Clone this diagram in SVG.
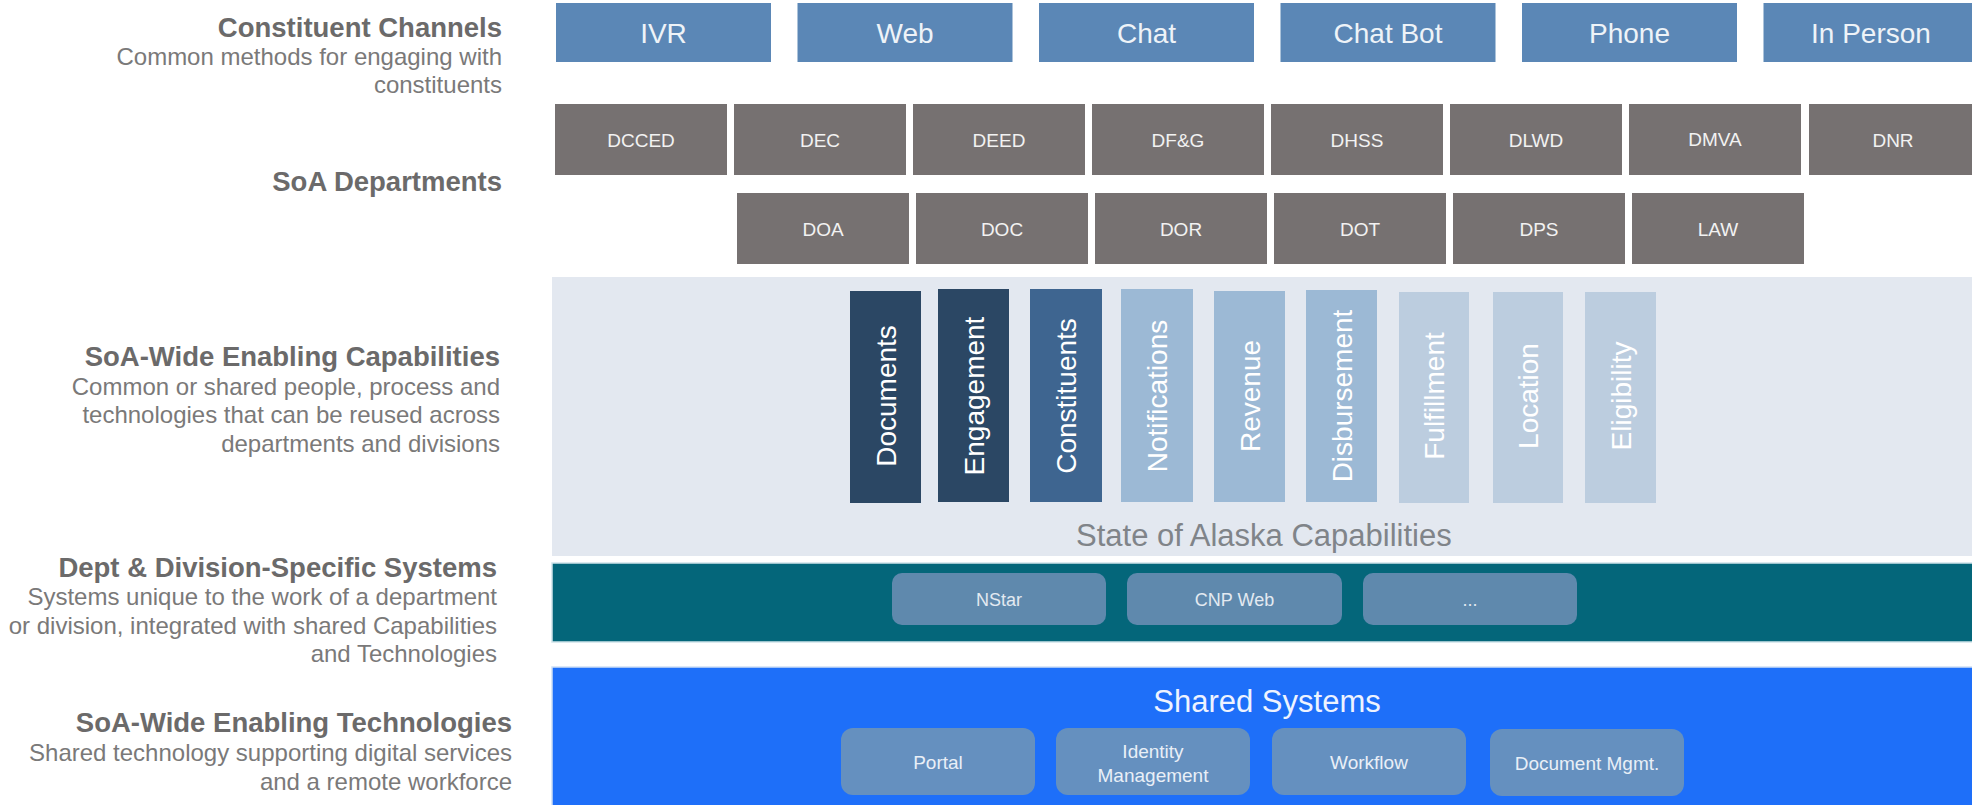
<svg xmlns="http://www.w3.org/2000/svg" width="1972" height="805" viewBox="0 0 1972 805">
  <style>
    text { font-family: "Liberation Sans", Arial, sans-serif; }
    .ttl { font-size: 27.5px; font-weight: bold; fill: #6b6a6a; text-anchor: end; }
    .sub { font-size: 24px; fill: #7a7979; text-anchor: end; }
    .chan rect { fill: #5b87b6; }
    .chan text { font-size: 28px; fill: #eef3f8; text-anchor: middle; }
    .dept rect { fill: #767171; }
    .dept text { font-size: 19px; fill: #f2f2f2; text-anchor: middle; }
    .cap text { font-size: 28px; fill: #ffffff; text-anchor: middle; }
    .navy { fill: #2b4764; }
    .mid { fill: #3e6590; }
    .pale { fill: #9cb9d5; }
    .paler { fill: #bccddf; }
    .sys rect { fill: #5f89ad; }
    .sys text { font-size: 18px; fill: #e3eaf1; text-anchor: middle; }
    .tech rect { fill: #6590bf; }
    .tech text { font-size: 19px; fill: #e9eff7; text-anchor: middle; }
  </style>

  <rect width="1972" height="805" fill="#ffffff"/>

  <!-- Row labels on the left -->
  <g id="label-channels">
    <text class="ttl" x="502" y="37">Constituent Channels</text>
    <text class="sub" x="502" y="65">Common methods for engaging with</text>
    <text class="sub" x="502" y="93">constituents</text>
  </g>
  <g id="label-departments">
    <text class="ttl" x="502" y="191">SoA Departments</text>
  </g>
  <g id="label-capabilities">
    <text class="ttl" x="500" y="366">SoA-Wide Enabling Capabilities</text>
    <text class="sub" x="500" y="395">Common or shared people, process and</text>
    <text class="sub" x="500" y="423">technologies that can be reused across</text>
    <text class="sub" x="500" y="452">departments and divisions</text>
  </g>
  <g id="label-dept-systems">
    <text class="ttl" x="497" y="577">Dept &amp; Division-Specific Systems</text>
    <text class="sub" x="497" y="605">Systems unique to the work of a department</text>
    <text class="sub" x="497" y="634">or division, integrated with shared Capabilities</text>
    <text class="sub" x="497" y="662">and Technologies</text>
  </g>
  <g id="label-technologies">
    <text class="ttl" x="512" y="732">SoA-Wide Enabling Technologies</text>
    <text class="sub" x="512" y="761">Shared technology supporting digital services</text>
    <text class="sub" x="512" y="790">and a remote workforce</text>
  </g>

  <!-- Constituent channels -->
  <g id="ch-ivr" class="chan"><rect x="556" y="3" width="215" height="59"/><text x="663.5" y="43">IVR</text></g>
  <g id="ch-web" class="chan"><rect x="797.5" y="3" width="215" height="59"/><text x="905" y="43">Web</text></g>
  <g id="ch-chat" class="chan"><rect x="1039" y="3" width="215" height="59"/><text x="1146.5" y="43">Chat</text></g>
  <g id="ch-chatbot" class="chan"><rect x="1280.5" y="3" width="215" height="59"/><text x="1388" y="43">Chat Bot</text></g>
  <g id="ch-phone" class="chan"><rect x="1522" y="3" width="215" height="59"/><text x="1629.5" y="43">Phone</text></g>
  <g id="ch-inperson" class="chan"><rect x="1763.5" y="3" width="215" height="59"/><text x="1871" y="43">In Person</text></g>

  <!-- Departments, first row -->
  <g id="d-dcced" class="dept"><rect x="555" y="104" width="172" height="71"/><text x="641" y="147">DCCED</text></g>
  <g id="d-dec" class="dept"><rect x="734" y="104" width="172" height="71"/><text x="820" y="147">DEC</text></g>
  <g id="d-deed" class="dept"><rect x="913" y="104" width="172" height="71"/><text x="999" y="147">DEED</text></g>
  <g id="d-dfg" class="dept"><rect x="1092" y="104" width="172" height="71"/><text x="1178" y="147">DF&amp;G</text></g>
  <g id="d-dhss" class="dept"><rect x="1271" y="104" width="172" height="71"/><text x="1357" y="147">DHSS</text></g>
  <g id="d-dlwd" class="dept"><rect x="1450" y="104" width="172" height="71"/><text x="1536" y="147">DLWD</text></g>
  <g id="d-dmva" class="dept"><rect x="1629" y="104" width="172" height="71"/><text x="1715" y="146" font-size="17">DMVA</text></g>
  <g id="d-dnr" class="dept"><rect x="1809" y="104" width="172" height="71"/><text x="1893" y="147">DNR</text></g>

  <!-- Departments, second row -->
  <g id="d-doa" class="dept"><rect x="737" y="193" width="172" height="71"/><text x="823" y="236">DOA</text></g>
  <g id="d-doc" class="dept"><rect x="916" y="193" width="172" height="71"/><text x="1002" y="236">DOC</text></g>
  <g id="d-dor" class="dept"><rect x="1095" y="193" width="172" height="71"/><text x="1181" y="236">DOR</text></g>
  <g id="d-dot" class="dept"><rect x="1274" y="193" width="172" height="71"/><text x="1360" y="236">DOT</text></g>
  <g id="d-dps" class="dept"><rect x="1453" y="193" width="172" height="71"/><text x="1539" y="236">DPS</text></g>
  <g id="d-law" class="dept"><rect x="1632" y="193" width="172" height="71"/><text x="1718" y="236">LAW</text></g>

  <!-- Shared capabilities panel -->
  <g id="capabilities">
    <rect x="552" y="277" width="1420" height="279" fill="#e3e8f0"/>
    <text x="1076" y="546" font-size="31" fill="#808489">State of Alaska Capabilities</text>
  </g>
  <g id="cap-documents" class="cap"><rect class="navy" x="850" y="291" width="71" height="212"/><text transform="translate(885.5,396) rotate(-90)" y="10">Documents</text></g>
  <g id="cap-engagement" class="cap"><rect class="navy" x="938" y="289" width="71" height="213"/><text transform="translate(973.5,396) rotate(-90)" y="10">Engagement</text></g>
  <g id="cap-constituents" class="cap"><rect class="mid" x="1030" y="289" width="72" height="213"/><text transform="translate(1066,396) rotate(-90)" y="10">Constituents</text></g>
  <g id="cap-notifications" class="cap"><rect class="pale" x="1121" y="289" width="72" height="213"/><text transform="translate(1157,396) rotate(-90)" y="10">Notifications</text></g>
  <g id="cap-revenue" class="cap"><rect class="pale" x="1214" y="291" width="71" height="211"/><text transform="translate(1249.5,396) rotate(-90)" y="10">Revenue</text></g>
  <g id="cap-disbursement" class="cap"><rect class="pale" x="1306" y="290" width="71" height="212"/><text transform="translate(1341.5,396) rotate(-90)" y="10">Disbursement</text></g>
  <g id="cap-fulfillment" class="cap"><rect class="paler" x="1399" y="292" width="70" height="211"/><text transform="translate(1434,396) rotate(-90)" y="10">Fulfillment</text></g>
  <g id="cap-location" class="cap"><rect class="paler" x="1493" y="292" width="70" height="211"/><text transform="translate(1528,396) rotate(-90)" y="10">Location</text></g>
  <g id="cap-eligibility" class="cap"><rect class="paler" x="1585" y="292" width="71" height="211"/><text transform="translate(1620.5,396) rotate(-90)" y="10">Eligibility</text></g>

  <!-- Department-specific systems band -->
  <g id="dept-systems">
    <rect x="552" y="563" width="1421" height="79" fill="#04667a" stroke="#cfe4ea" stroke-width="1.5"/>
  </g>
  <g id="sys-nstar" class="sys"><rect x="892" y="573" width="214" height="52" rx="10"/><text x="999" y="606">NStar</text></g>
  <g id="sys-cnpweb" class="sys"><rect x="1127" y="573" width="215" height="52" rx="10"/><text x="1234.5" y="606">CNP Web</text></g>
  <g id="sys-more" class="sys"><rect x="1363" y="573" width="214" height="52" rx="10"/><text x="1470" y="606" fill="#a9bfd1">...</text></g>

  <!-- Shared technology band -->
  <g id="shared-systems">
    <rect x="552" y="667" width="1421" height="140" fill="#1e6ff9" stroke="#cfe0f5" stroke-width="1.5"/>
    <text x="1267" y="712" font-size="31" fill="#eef3ff" text-anchor="middle">Shared Systems</text>
  </g>
  <g id="tech-portal" class="tech"><rect x="841" y="728" width="194" height="67" rx="12"/><text x="938" y="769">Portal</text></g>
  <g id="tech-identity" class="tech"><rect x="1056" y="728" width="194" height="67" rx="12"/><text x="1153" y="758">Identity</text><text x="1153" y="782">Management</text></g>
  <g id="tech-workflow" class="tech"><rect x="1272" y="728" width="194" height="67" rx="12"/><text x="1369" y="769">Workflow</text></g>
  <g id="tech-docmgmt" class="tech"><rect x="1490" y="729" width="194" height="67" rx="12"/><text x="1587" y="770">Document Mgmt.</text></g>

  <!-- The layers are stacked without connecting lines -->
  <g id="connectors"/>
</svg>
